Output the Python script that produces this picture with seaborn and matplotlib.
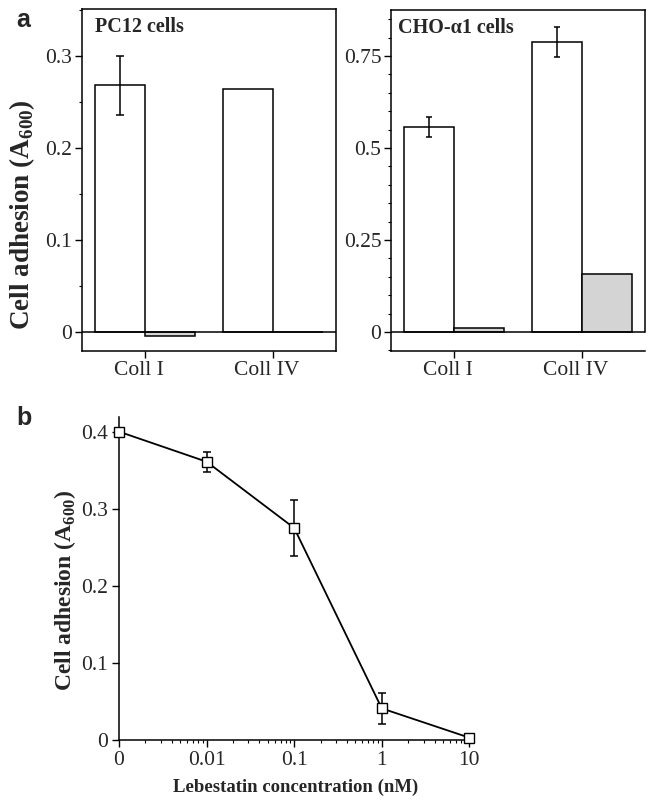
import numpy as np
import pandas as pd
import matplotlib
matplotlib.use("Agg")
import matplotlib.pyplot as plt
import matplotlib.ticker as mticker
import matplotlib.transforms as mtransforms
import seaborn as sns

# ---------------- data ----------------
substrates = ["Coll I", "Coll IV"]
treatments = ["Control", "Lebestatin"]

pc12_control = [0.268, 0.264]
pc12_control_err = [0.032, 0.0]
pc12_lebestatin = [-0.004, 0.0]

cho_control = [0.557, 0.788]
cho_control_err = [0.027, 0.040]
cho_lebestatin = [0.010, 0.158]

conc_labels = ["0", "0.01", "0.1", "1", "10"]
conc_pos = [0.001, 0.01, 0.1, 1, 10]  # "0" drawn at 0.001 on the log axis
adhesion = [0.400, 0.361, 0.275, 0.041, 0.003]
adhesion_err = [0.0, 0.013, 0.036, 0.020, 0.0]

# ---------------- style ----------------
sns.set_theme(style="ticks")
plt.rcParams["font.family"] = ["Liberation Serif", "DejaVu Serif"]
plt.rcParams["mathtext.fontset"] = "custom"
plt.rcParams["mathtext.rm"] = "Liberation Serif"
plt.rcParams["mathtext.bf"] = "Liberation Serif:bold"
plt.rcParams["axes.linewidth"] = 1.1
plt.rcParams["axes.edgecolor"] = "black"

fig = plt.figure(figsize=(6.48, 8.01), dpi=100)
W, H = 648, 801


def px_axes(x0, y0, x1, y1):
    return fig.add_axes([x0 / W, 1 - y1 / H, (x1 - x0) / W, (y1 - y0) / H])


palette = {"Control": "white", "Lebestatin": "#d4d4d4"}
TICK_FS = 15.5


def bar_panel(ax, ctrl, ctrl_err, leb, ylim, major, minor, title, title_x,
              right_bound_zero, cap):
    df = pd.DataFrame({
        "substrate": substrates * 2,
        "treatment": [treatments[0]] * 2 + [treatments[1]] * 2,
        "value": list(ctrl) + list(leb),
    })
    sns.barplot(data=df, x="substrate", y="value", hue="treatment",
                hue_order=treatments, order=substrates, palette=palette,
                edgecolor="black", linewidth=1.1, width=0.78, errorbar=None,
                legend=False, ax=ax, saturation=1)
    bars = [p for p in ax.patches][:2]
    xs = [b.get_x() + b.get_width() / 2 for b in bars]
    for x, v, e in zip(xs, ctrl, ctrl_err):
        if e > 0:
            ax.errorbar(x, v, yerr=e, fmt="none", ecolor="black",
                        elinewidth=1.1, capsize=cap, capthick=1.1, zorder=5)
    ax.axhline(0, color="black", lw=1.1, zorder=4)
    ax.set_xlim(-0.49, 1.49)
    ax.set_ylim(*ylim)
    ax.yaxis.set_major_locator(mticker.MultipleLocator(major))
    ax.yaxis.set_minor_locator(mticker.MultipleLocator(minor))
    ax.yaxis.set_major_formatter(mticker.FuncFormatter(
        lambda v, p: "0" if abs(v) < 1e-9 else ("%g" % v)))
    ax.tick_params(axis="y", which="major", direction="out", length=5,
                   width=1.0, labelsize=TICK_FS, color="black", pad=2)
    ax.tick_params(axis="y", which="minor", direction="out", length=2.5,
                   width=0.8, color="black", left=True)
    ax.tick_params(axis="x", which="major", direction="out", length=5,
                   width=1.0, labelsize=TICK_FS, color="black", pad=2)
    shift = mtransforms.ScaledTranslation(-6 / 100, 0, fig.dpi_scale_trans)
    for lab in ax.get_xticklabels():
        lab.set_transform(lab.get_transform() + shift)
    ax.set_xlabel("")
    ax.set_ylabel("")
    for s in ax.spines.values():
        s.set_visible(True)
        s.set_color("black")
    if right_bound_zero:
        ax.spines["right"].set_bounds(0, ylim[1])
    ax.text(title_x, 0.932, title, transform=ax.transAxes, ha="left",
            va="baseline", fontsize=14.5, fontweight="bold")


# Panel a, left (PC12)
ax1 = px_axes(82, 9, 336, 351)
bar_panel(ax1, pc12_control, pc12_control_err, pc12_lebestatin,
          (-0.0207, 0.351), 0.1, 0.05, "PC12 cells", 0.05, False, 3)
ax1.set_ylabel("Cell adhesion (A$_{\\mathbf{600}}$)", fontsize=19.5,
               fontweight="bold")
ax1.yaxis.set_label_coords(-(82 - 37) / 254, 0.40)

# Panel a, right (CHO-alpha1)
ax2 = px_axes(391, 10, 645, 351)
bar_panel(ax2, cho_control, cho_control_err, cho_lebestatin,
          (-0.0516, 0.875), 0.25, 0.05, "CHO-α1 cells", 0.027, True, 2.5)

# Panel b
ax3 = px_axes(119, 417, 473, 740)
dfb = pd.DataFrame({"conc": conc_pos, "adhesion": adhesion})
sns.lineplot(data=dfb, x="conc", y="adhesion", ax=ax3, color="black",
             lw=1.3, marker="s", markersize=7, markerfacecolor="white",
             markeredgecolor="black", markeredgewidth=1.0, zorder=6,
             clip_on=False)
for x, v, e in zip(conc_pos, adhesion, adhesion_err):
    if e > 0:
        ax3.errorbar(x, v, yerr=e, fmt="none", ecolor="black",
                     elinewidth=1.1, capsize=3, capthick=1.1, zorder=5)
ax3.set_xscale("log")
ax3.set_xlim(0.001, 11)
ax3.set_ylim(0, 0.419)
ax3.set_xticks(conc_pos)
ax3.set_xticklabels(conc_labels)
ax3.xaxis.set_minor_locator(mticker.LogLocator(base=10, subs=np.arange(2, 10)))
ax3.xaxis.set_minor_formatter(mticker.NullFormatter())
ax3.yaxis.set_major_locator(mticker.MultipleLocator(0.1))
ax3.yaxis.set_major_formatter(mticker.FuncFormatter(
    lambda v, p: "0" if abs(v) < 1e-9 else ("%g" % v)))
ax3.tick_params(axis="both", which="major", direction="out", length=5,
                width=1.0, labelsize=TICK_FS, color="black", pad=3)
ax3.tick_params(axis="x", which="minor", direction="out", length=2.5,
                width=0.8, color="black")
for s in ["top", "right"]:
    ax3.spines[s].set_visible(False)
ax3.set_xlabel("Lebestatin concentration (nM)", fontsize=13.5,
               fontweight="bold", labelpad=6)
ax3.set_ylabel("Cell adhesion (A$_{\\mathbf{600}}$)", fontsize=17,
               fontweight="bold")
ax3.yaxis.set_label_coords(-(119 - 78) / 354, 0.464)

# panel letters
fig.text(16 / W, 1 - 8 / H, "a", ha="left", va="top", fontsize=18,
         fontweight="bold", family=["Liberation Sans", "DejaVu Sans"])
fig.text(16 / W, 1 - 406 / H, "b", ha="left", va="top", fontsize=18,
         fontweight="bold", family=["Liberation Sans", "DejaVu Sans"])

fig.savefig("out.png", dpi=100, facecolor="white")
